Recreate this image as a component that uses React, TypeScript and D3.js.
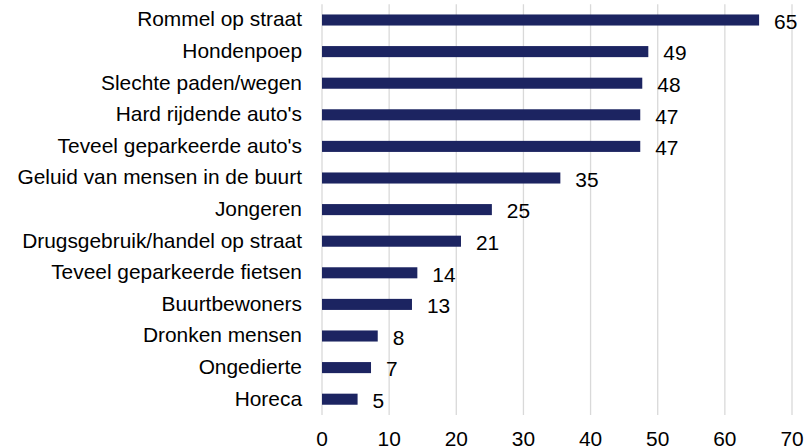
import React from "react";
import * as d3 from "d3";

const categories = [
  "Rommel op straat",
  "Hondenpoep",
  "Slechte paden/wegen",
  "Hard rijdende auto's",
  "Teveel geparkeerde auto's",
  "Geluid van mensen in de buurt",
  "Jongeren",
  "Drugsgebruik/handel op straat",
  "Teveel geparkeerde fietsen",
  "Buurtbewoners",
  "Dronken mensen",
  "Ongedierte",
  "Horeca",
];
const values = [65.1, 48.6, 47.7, 47.4, 47.4, 35.5, 25.3, 20.7, 14.2, 13.4, 8.3, 7.3, 5.3];
const labels = ["65", "49", "48", "47", "47", "35", "25", "21", "14", "13", "8", "7", "5"];
const ticks = [0, 10, 20, 30, 40, 50, 60, 70];

const W = 804;
const H = 447;
const left = 322;
const right = 792;
const top = 4.2;
const bottom = 415;
const FONT = "'Liberation Sans', Arial, sans-serif";
const FS = 20.9;

export default function App() {
  const x = d3.scaleLinear().domain([0, 70]).range([left, right]);
  const y = d3.scaleBand<string>().domain(categories).range([top, bottom]).paddingInner(0.65).paddingOuter(0.325);
  return (
    <div style={{ position: "fixed", left: 0, top: 0 }}>
      <svg width={W} height={H} style={{ display: "block", background: "#fff" }}>
        {ticks.map((t) => (
          <line key={"g" + t} x1={x(t)} x2={x(t)} y1={top} y2={bottom} stroke="#d9d9d9" strokeWidth={1.3} />
        ))}
        {categories.map((c, i) => {
          const cy = y(c)! + y.bandwidth() / 2;
          return (
            <g key={c}>
              <rect x={x(0)} y={y(c)!} width={x(values[i]) - x(0)} height={y.bandwidth()} fill="#1c2461" />
              <text x={302} y={cy + 6.3} textAnchor="end" fontFamily={FONT} fontSize={FS} fill="#000">
                {c}
              </text>
              <text x={x(values[i]) + 15} y={cy + 8.8} fontFamily={FONT} fontSize={FS} fill="#000">
                {labels[i]}
              </text>
            </g>
          );
        })}
        {ticks.map((t) => (
          <text key={"t" + t} x={x(t)} y={446} textAnchor="middle" fontFamily={FONT} fontSize={FS} fill="#000">
            {t}
          </text>
        ))}
      </svg>
    </div>
  );
}
